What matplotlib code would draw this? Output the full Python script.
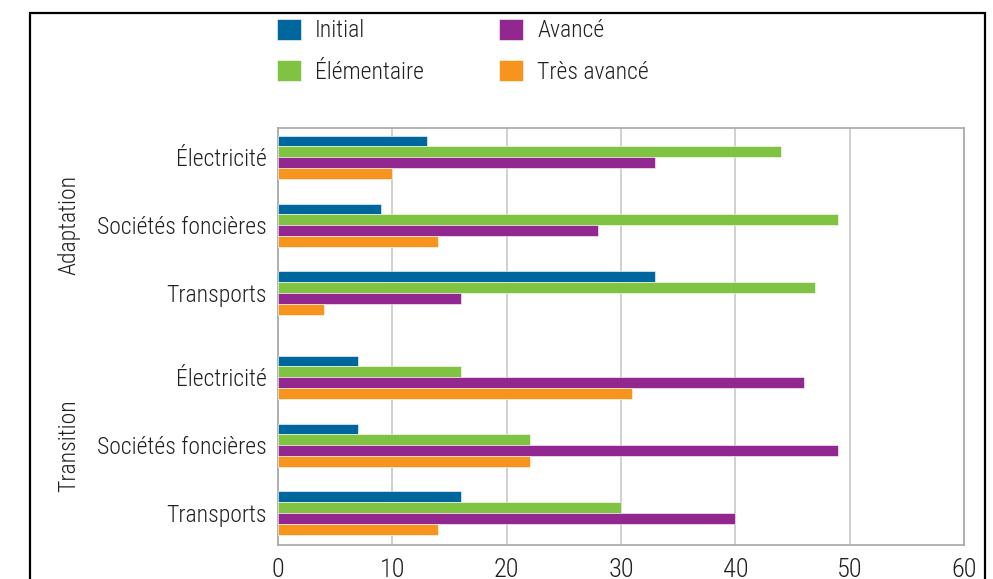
import matplotlib.pyplot as plt
import numpy as np
from matplotlib.patches import Rectangle

plt.rcParams['font.family'] = ['Roboto Condensed', 'DejaVu Sans']
plt.rcParams['font.weight'] = 'light'

sectors = ['Électricité', 'Sociétés foncières', 'Transports',
           'Électricité', 'Sociétés foncières', 'Transports']
groups = ['Adaptation', 'Transition']
levels = ['Initial', 'Élémentaire', 'Avancé', 'Très avancé']
colors = ['#00679E', '#80C342', '#92278F', '#F7941D']

initial = [13, 9, 33, 7, 7, 16]
elementaire = [44, 49, 47, 16, 22, 30]
avance = [33, 28, 16, 46, 49, 40]
tres_avance = [10, 14, 4, 31, 22, 14]
series = [initial, elementaire, avance, tres_avance]

# group centres, with a wider gap between Adaptation and Transition
pos = np.array([0, 1, 2, 3.24, 4.24, 5.24])
h = 0.159

fig = plt.figure(figsize=(9.93, 5.79), dpi=100)
ax = fig.add_axes([0.28, 0.0587, 0.6908, 0.7202])

for i, (vals, lab, col) in enumerate(zip(series, levels, colors)):
    ax.barh(pos + (i - 1.5) * h, vals, height=h, color=col, label=lab,
            edgecolor='white', linewidth=0.4, zorder=3)

ax.set_xlim(0, 60)
ax.set_ylim(pos[-1] + 0.47, pos[0] - 0.43)
ax.set_xticks(range(0, 61, 10))
ax.set_yticks(pos)
ax.set_yticklabels(sectors)
ax.tick_params(axis='both', length=0, labelsize=17, colors='#231F20')
ax.tick_params(axis='y', pad=8)
ax.tick_params(axis='x', pad=9, labelsize=19)
ax.grid(axis='x', color='#C8C8C8', linewidth=1.2, zorder=0)
for s in ax.spines.values():
    s.set_color('#A6A6A6')
    s.set_linewidth(1.2)

ax.text(-0.305, pos[1], groups[0], transform=ax.get_yaxis_transform(),
        rotation=90, ha='center', va='center', fontsize=17, color='#231F20')
ax.text(-0.305, pos[4], groups[1], transform=ax.get_yaxis_transform(),
        rotation=90, ha='center', va='center', fontsize=17, color='#231F20')

fig.legend(loc='upper left', bbox_to_anchor=(0.279, 0.968), ncol=2,
           frameon=False, fontsize=17, handlelength=1.0, handleheight=1.0,
           handletextpad=0.6, labelspacing=0.75, columnspacing=3.2,
           borderpad=0, borderaxespad=0, labelcolor='#231F20')

fig.patches.append(Rectangle((0.0302, -0.05), 0.9618, 1.0275, transform=fig.transFigure,
                             fill=False, edgecolor='black', linewidth=1.6))

fig.savefig('out.png', dpi=100)
